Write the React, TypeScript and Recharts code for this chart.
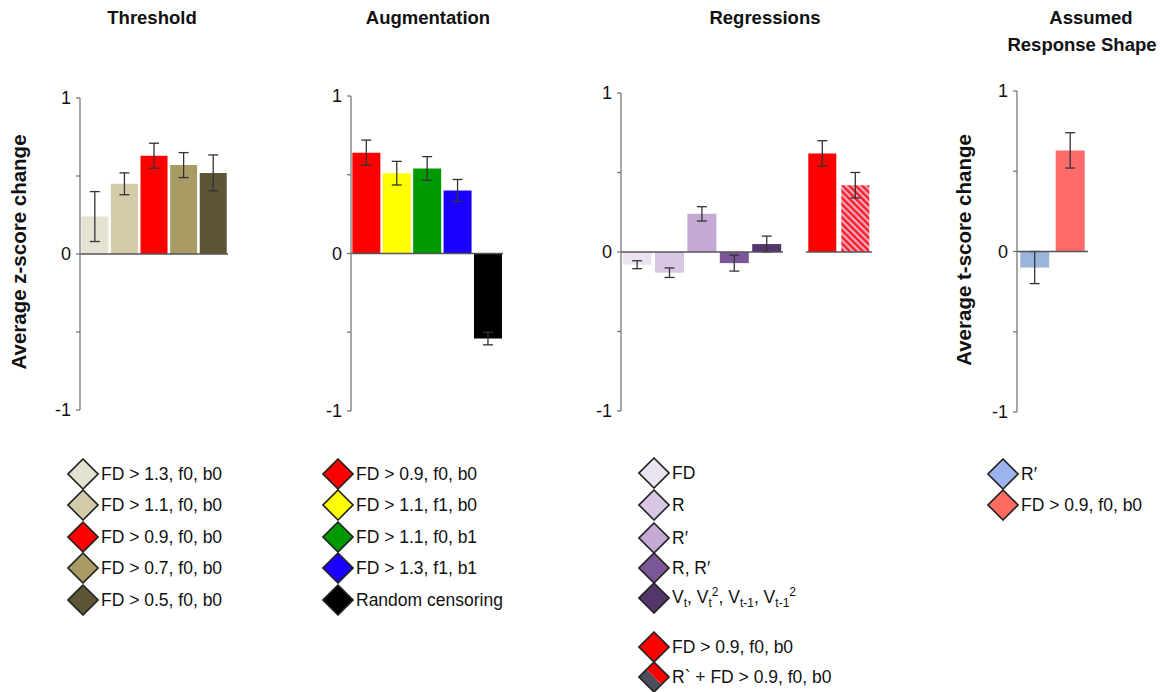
import React from 'react';
import { BarChart, Bar, XAxis, YAxis, ErrorBar, Cell, ReferenceLine } from 'recharts';

// Threshold panel
const thresholdLabels = ['FD > 1.3, f0, b0', 'FD > 1.1, f0, b0', 'FD > 0.9, f0, b0', 'FD > 0.7, f0, b0', 'FD > 0.5, f0, b0'];
const thresholdValues = [0.24, 0.45, 0.63, 0.57, 0.52];
const thresholdErrors = [0.16, 0.07, 0.08, 0.08, 0.115];
const thresholdColors = ['#e6e2d1', '#d2cbaa', '#ff0000', '#a89b64', '#5d5536'];

// Augmentation panel
const augmentationLabels = ['FD > 0.9, f0, b0', 'FD > 1.1, f1, b0', 'FD > 1.1, f0, b1', 'FD > 1.3, f1, b1', 'Random censoring'];
const augmentationValues = [0.64, 0.51, 0.54, 0.4, -0.54];
const augmentationErrors = [0.08, 0.075, 0.075, 0.07, 0.04];
const augmentationColors = ['#ff0000', '#ffff00', '#009900', '#1a00ff', '#000000'];

// Regressions panel
const regressionLabels = ['FD', 'R', 'R′', 'R, R′', 'Vt'];
const regressionValues = [-0.08, -0.13, 0.24, -0.07, 0.05];
const regressionErrors = [0.025, 0.03, 0.045, 0.05, 0.05];
const regressionColors = ['#ebe4f0', '#d7c7e2', '#c2aad4', '#7c5797', '#53376b'];

const combinedLabels = ['FD > 0.9, f0, b0', 'R` + FD > 0.9, f0, b0'];
const combinedValues = [0.62, 0.42];
const combinedErrors = [0.08, 0.08];
const combinedColors = ['#ff0000', 'url(#hatch)'];

// Assumed response shape panel
const shapeLabels = ['R′', 'FD > 0.9, f0, b0'];
const shapeValues = [-0.1, 0.63];
const shapeErrors = [0.1, 0.11];
const shapeColors = ['#9bb4da', '#ff6b6b'];

const yTicks = [-1, -0.5, 0, 0.5, 1];
const font = '"Liberation Sans", Arial, sans-serif';

type PanelProps = {
  labels: string[];
  values: number[];
  errors: number[];
  colors: string[];
  axisX: number;
  endX: number;
  topY: number;
  bottomY: number;
  showAxis?: boolean;
  gap?: string;
};

const Panel = (props: PanelProps) => {
  const { labels, values, errors, colors, axisX, endX, topY, bottomY, showAxis = true, gap = '5%' } = props;
  const data = labels.map((name, i) => ({ name, value: values[i], err: errors[i] }));
  const axisW = showAxis ? 40 : 0;
  const pad = 14;
  return (
    <div style={{ position: 'absolute', left: axisX - axisW, top: topY - pad }}>
      <BarChart
        width={endX - axisX + axisW}
        height={bottomY - topY + pad * 2}
        data={data}
        margin={{ top: pad, bottom: pad, left: 0, right: 0 }}
        barCategoryGap={gap}
      >
        <XAxis dataKey="name" hide />
        <YAxis
          domain={[-1, 1]}
          ticks={yTicks}
          hide={!showAxis}
          width={axisW}
          axisLine={{ stroke: '#777', strokeWidth: 1.3 }}
          tickLine={{ stroke: '#777', strokeWidth: 1.3 }}
          tickSize={4}
          tickMargin={5}
          tick={{ fill: '#111', fontSize: 18, fontFamily: font }}
          tickFormatter={(v: number) => (v === 1 ? '1' : v === 0 ? '0' : v === -1 ? '-1' : '')}
        />
        <Bar dataKey="value" isAnimationActive={false}>
          {data.map((d, i) => (
            <Cell key={d.name + i} fill={colors[i]} />
          ))}
          <ErrorBar dataKey="err" width={5} stroke="#333" strokeWidth={1.3} direction="y" />
        </Bar>
        <ReferenceLine y={0} stroke="#555" strokeWidth={1.3} />
      </BarChart>
    </div>
  );
};

const Diamond = ({ color, split }: { color: string; split?: string }) => (
  <svg width={32} height={32} style={{ display: 'block' }}>
    {split ? (
      <>
        <polygon points="8.5,8.5 23.5,23.5 16,31 1,16" fill={split} />
        <polygon points="8.5,8.5 16,1 31,16 23.5,23.5" fill={color} />
        <polygon points="16,1 31,16 16,31 1,16" fill="none" stroke="#222" strokeWidth={1.6} />
      </>
    ) : (
      <polygon points="16,1 31,16 16,31 1,16" fill={color} stroke="#222" strokeWidth={1.6} />
    )}
  </svg>
);

const LegendRow = ({ x, y, color, split, children }: { x: number; y: number; color: string; split?: string; children: React.ReactNode }) => (
  <div style={{ position: 'absolute', left: x - 16, top: y - 16, height: 32, display: 'flex', alignItems: 'center', whiteSpace: 'nowrap' }}>
    <Diamond color={color} split={split} />
    <span style={{ marginLeft: 2, fontSize: 17.5, fontFamily: font, color: '#111' }}>{children}</span>
  </div>
);

const Title = ({ x, y, text }: { x: number; y: number; text: string }) => (
  <div style={{ position: 'absolute', left: x - 150, top: y - 12, width: 300, textAlign: 'center', fontSize: 18.5, fontWeight: 'bold', fontFamily: font, color: '#111', lineHeight: '24px' }}>
    {text}
  </div>
);

const YLabel = ({ x, y, text }: { x: number; y: number; text: string }) => (
  <div style={{ position: 'absolute', left: x - 150, top: y - 12, width: 300, height: 24, textAlign: 'center', transform: 'rotate(-90deg)', fontSize: 20.5, fontWeight: 'bold', fontFamily: font, color: '#111', lineHeight: '24px' }}>
    {text}
  </div>
);

const rowY = [474, 505, 537, 568, 600];
const vSub = { fontSize: 12 };

export default function App() {
  return (
    <div style={{ position: 'absolute', left: 0, top: 0, width: 1160, height: 692, background: '#fff', overflow: 'hidden' }}>
      <svg width={0} height={0} style={{ position: 'absolute' }}>
        <defs>
          <pattern id="hatch" patternUnits="userSpaceOnUse" width={4.6} height={4.6} patternTransform="rotate(-45)">
            <rect width={4.6} height={4.6} fill="#eaa6c6" />
            <rect width={2.3} height={4.6} fill="#ff1a1a" />
          </pattern>
        </defs>
      </svg>

      <Title x={152} y={18} text="Threshold" />
      <Title x={428} y={18} text="Augmentation" />
      <Title x={765} y={18} text="Regressions" />
      <Title x={1091} y={18} text="Assumed" />
      <Title x={1082} y={45} text="Response Shape" />

      <YLabel x={19} y={252} text="Average z-score change" />
      <YLabel x={964} y={250} text="Average t-score change" />

      <Panel labels={thresholdLabels} values={thresholdValues} errors={thresholdErrors} colors={thresholdColors}
        axisX={80} endX={228} topY={98} bottomY={410} gap="4.5%" />
      <Panel labels={augmentationLabels} values={augmentationValues} errors={augmentationErrors} colors={augmentationColors}
        axisX={351} endX={503} topY={96} bottomY={411} gap="4.5%" />
      <Panel labels={regressionLabels} values={regressionValues} errors={regressionErrors} colors={regressionColors}
        axisX={621} endX={783} topY={93} bottomY={411} gap="5%" />
      <Panel labels={combinedLabels} values={combinedValues} errors={combinedErrors} colors={combinedColors}
        axisX={806} endX={872} topY={93} bottomY={411} showAxis={false} gap="7%" />
      <Panel labels={shapeLabels} values={shapeValues} errors={shapeErrors} colors={shapeColors}
        axisX={1017} endX={1088} topY={91} bottomY={412} gap="9%" />

      {thresholdLabels.map((t, i) => (
        <LegendRow key={t} x={83} y={rowY[i]} color={thresholdColors[i]}>{t}</LegendRow>
      ))}
      {augmentationLabels.map((t, i) => (
        <LegendRow key={t} x={338} y={rowY[i]} color={augmentationColors[i]}>{t}</LegendRow>
      ))}

      <LegendRow x={654} y={473} color={regressionColors[0]}>FD</LegendRow>
      <LegendRow x={654} y={505} color={regressionColors[1]}>R</LegendRow>
      <LegendRow x={654} y={538} color={regressionColors[2]}>R′</LegendRow>
      <LegendRow x={654} y={568} color={regressionColors[3]}>R, R′</LegendRow>
      <LegendRow x={654} y={598} color={regressionColors[4]}>
        V<sub style={vSub}>t</sub>, V<sub style={vSub}>t</sub><sup style={vSub}>2</sup>, V<sub style={vSub}>t-1</sub>, V<sub style={vSub}>t-1</sub><sup style={vSub}>2</sup>
      </LegendRow>
      <LegendRow x={654} y={647} color="#ff0000">{combinedLabels[0]}</LegendRow>
      <LegendRow x={654} y={677} color="#ff0000" split="#4b4f5c">{combinedLabels[1]}</LegendRow>

      <LegendRow x={1003} y={474} color="#9bb4f0">{shapeLabels[0]}</LegendRow>
      <LegendRow x={1003} y={505} color="#ff6b5e">{shapeLabels[1]}</LegendRow>
    </div>
  );
}
